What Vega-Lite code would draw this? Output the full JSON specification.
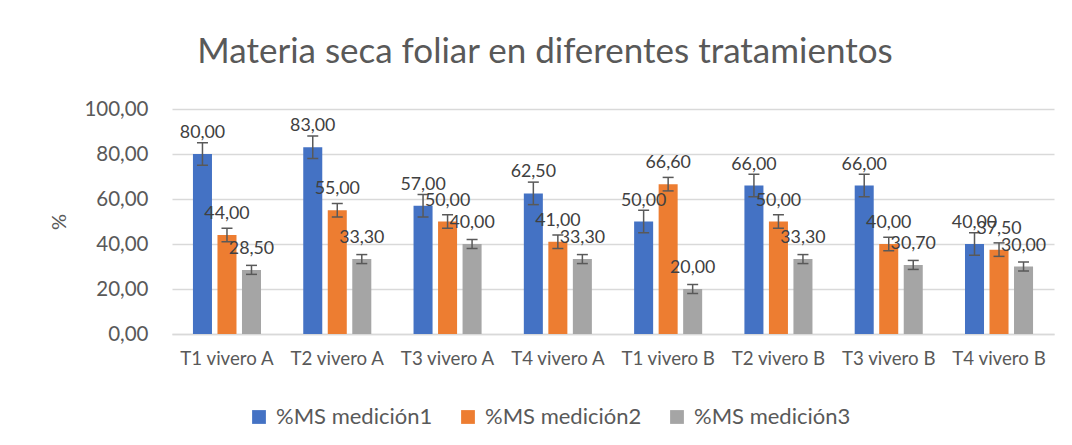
{
  "$schema": "https://vega.github.io/schema/vega-lite/v6.json",
  "width": 882,
  "height": 225,
  "autosize": {"type": "none"},
  "padding": {"left": 172, "top": 109, "right": 18, "bottom": 111},
  "background": "white",
  "config": {
    "locale": {"number": {"decimal": ",", "thousands": ".", "grouping": [3], "currency": ["", " €"]}},
    "view": {"stroke": null},
    "font": "Lato"
  },
  "title": {
    "text": "Materia seca foliar en diferentes tratamientos",
    "font": "Lato",
    "fontSize": 35,
    "fontWeight": "normal",
    "color": "#595959",
    "anchor": "middle",
    "dx": -68,
    "offset": 29
  },
  "data": {
    "values": [
      {"t": "T1 vivero A", "serie": "%MS medición1", "v": 80, "lo": 75, "hi": 85},
      {"t": "T1 vivero A", "serie": "%MS medición2", "v": 44, "lo": 41, "hi": 47},
      {"t": "T1 vivero A", "serie": "%MS medición3", "v": 28.5, "lo": 26.5, "hi": 30.5},
      {"t": "T2 vivero A", "serie": "%MS medición1", "v": 83, "lo": 78, "hi": 88},
      {"t": "T2 vivero A", "serie": "%MS medición2", "v": 55, "lo": 52, "hi": 58},
      {"t": "T2 vivero A", "serie": "%MS medición3", "v": 33.3, "lo": 31.3, "hi": 35.3},
      {"t": "T3 vivero A", "serie": "%MS medición1", "v": 57, "lo": 52, "hi": 62},
      {"t": "T3 vivero A", "serie": "%MS medición2", "v": 50, "lo": 47, "hi": 53},
      {"t": "T3 vivero A", "serie": "%MS medición3", "v": 40, "lo": 38, "hi": 42},
      {"t": "T4 vivero A", "serie": "%MS medición1", "v": 62.5, "lo": 57.5, "hi": 67.5},
      {"t": "T4 vivero A", "serie": "%MS medición2", "v": 41, "lo": 38, "hi": 44},
      {"t": "T4 vivero A", "serie": "%MS medición3", "v": 33.3, "lo": 31.3, "hi": 35.3},
      {"t": "T1 vivero B", "serie": "%MS medición1", "v": 50, "lo": 45, "hi": 55},
      {"t": "T1 vivero B", "serie": "%MS medición2", "v": 66.6, "lo": 63.6, "hi": 69.6},
      {"t": "T1 vivero B", "serie": "%MS medición3", "v": 20, "lo": 18, "hi": 22},
      {"t": "T2 vivero B", "serie": "%MS medición1", "v": 66, "lo": 61, "hi": 71},
      {"t": "T2 vivero B", "serie": "%MS medición2", "v": 50, "lo": 47, "hi": 53},
      {"t": "T2 vivero B", "serie": "%MS medición3", "v": 33.3, "lo": 31.3, "hi": 35.3},
      {"t": "T3 vivero B", "serie": "%MS medición1", "v": 66, "lo": 61, "hi": 71},
      {"t": "T3 vivero B", "serie": "%MS medición2", "v": 40, "lo": 37, "hi": 43},
      {"t": "T3 vivero B", "serie": "%MS medición3", "v": 30.7, "lo": 28.7, "hi": 32.7},
      {"t": "T4 vivero B", "serie": "%MS medición1", "v": 40, "lo": 35, "hi": 45},
      {"t": "T4 vivero B", "serie": "%MS medición2", "v": 37.5, "lo": 34.5, "hi": 40.5},
      {"t": "T4 vivero B", "serie": "%MS medición3", "v": 30, "lo": 28, "hi": 32}
    ]
  },
  "encoding": {
    "x": {
      "field": "t",
      "type": "nominal",
      "sort": null,
      "scale": {"paddingInner": 0.383, "paddingOuter": 0.19},
      "axis": {
        "title": null,
        "labelAngle": 0,
        "ticks": false,
        "domainColor": "#D9D9D9",
        "domainWidth": 1.5,
        "labelPadding": 15,
        "labelFontSize": 18.7,
        "labelColor": "#595959",
        "labelFont": "Lato"
      }
    },
    "xOffset": {"field": "serie", "type": "nominal", "sort": null, "scale": {"paddingInner": 0.224}}
  },
  "layer": [
    {
      "mark": {"type": "bar"},
      "encoding": {
        "y": {
          "field": "v",
          "type": "quantitative",
          "title": "%",
          "scale": {"domain": [0, 100]},
          "axis": {
            "title": "%",
            "titleFontSize": 20,
            "titleFontWeight": "normal",
            "titleColor": "#595959",
            "titleFont": "Lato",
            "titlePadding": 14,
            "values": [0, 20, 40, 60, 80, 100],
            "format": ".2f",
            "ticks": false,
            "domain": false,
            "gridColor": "#D9D9D9",
            "gridWidth": 1.5,
            "labelPadding": 24,
            "labelFontSize": 20.5,
            "labelColor": "#595959",
            "labelFont": "Lato"
          }
        },
        "color": {
          "field": "serie",
          "type": "nominal",
          "sort": null,
          "scale": {"range": ["#4472C4", "#ED7D31", "#A5A5A5"]},
          "legend": {
            "title": null,
            "orient": "none",
            "direction": "horizontal",
            "legendX": 76,
            "legendY": 297,
            "symbolType": "square",
            "symbolSize": 190,
            "symbolStrokeWidth": 0,
            "symbolOpacity": 1,
            "columnPadding": 24,
            "labelOffset": 6,
            "labelFontSize": 22,
            "labelColor": "#595959",
            "labelFont": "Lato",
            "labelLimit": 300
          }
        }
      }
    },
    {
      "mark": {"type": "rule", "color": "#595959", "strokeWidth": 1.5},
      "encoding": {
        "y": {"field": "lo", "type": "quantitative", "title": "%"},
        "y2": {"field": "hi"}
      }
    },
    {
      "mark": {"type": "tick", "color": "#595959", "size": 11, "thickness": 1.5, "opacity": 1},
      "encoding": {"y": {"field": "lo", "type": "quantitative", "title": "%"}}
    },
    {
      "mark": {"type": "tick", "color": "#595959", "size": 11, "thickness": 1.5, "opacity": 1},
      "encoding": {"y": {"field": "hi", "type": "quantitative", "title": "%"}}
    },
    {
      "mark": {"type": "text", "baseline": "alphabetic", "dy": -16, "fontSize": 17.8, "color": "#404040", "font": "Lato"},
      "encoding": {
        "y": {"field": "v", "type": "quantitative", "title": "%"},
        "text": {"field": "v", "type": "quantitative", "format": ".2f"}
      }
    }
  ]
}
